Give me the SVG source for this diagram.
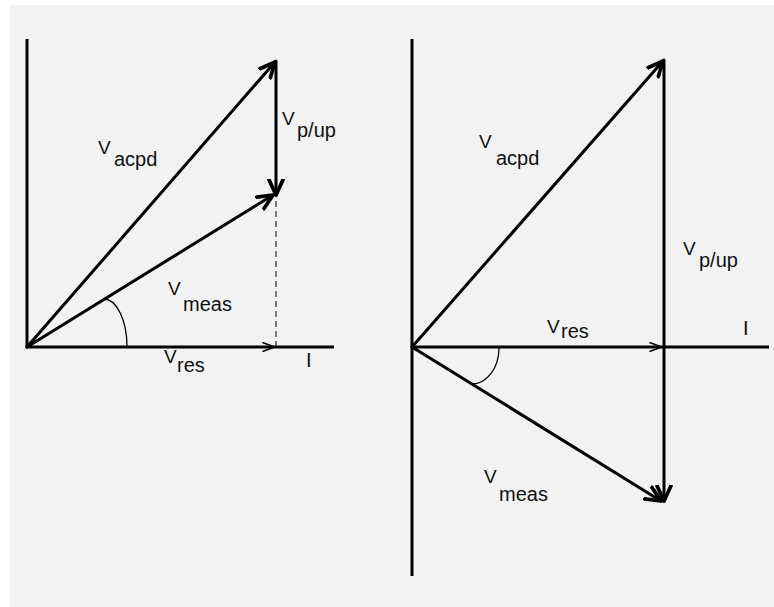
<svg xmlns="http://www.w3.org/2000/svg" width="774" height="607" viewBox="0 0 774 607">
<defs>
<style>
.ax{stroke:#000;stroke-width:3;fill:none;stroke-linecap:butt}
.vec{stroke:#000;stroke-width:3;fill:none;stroke-linecap:round;stroke-linejoin:round}
.thin{stroke:#000;stroke-width:1.3;fill:none}
.dash{stroke:#000;stroke-width:1;fill:none;stroke-dasharray:6 4}
.t{font-family:"Liberation Sans",Arial,sans-serif;fill:#111}
.v{font-size:19px}
.s{font-size:20px}
</style>
<marker id="ah" markerUnits="userSpaceOnUse" markerWidth="20" markerHeight="20" refX="13" refY="7" orient="auto" viewBox="0 0 16 14">
<polyline points="1,1.5 13,7 1,12.5" fill="none" stroke="#000" stroke-width="3" stroke-linecap="round" stroke-linejoin="round"/>
</marker>
<marker id="ahthin" markerUnits="userSpaceOnUse" markerWidth="16" markerHeight="12" refX="12" refY="5" orient="auto" viewBox="0 0 14 10">
<polyline points="1,1 12,5 1,9" fill="none" stroke="#000" stroke-width="1.3"/>
</marker>
</defs>
<rect x="10" y="5" width="764" height="602" fill="#f2f2f2"/>

<g id="axes">
<line class="ax" x1="27" y1="39" x2="27" y2="348"/>
<line class="ax" x1="26" y1="347" x2="334" y2="347"/>
<line class="ax" x1="412" y1="39" x2="412" y2="576"/>
<line class="ax" x1="411" y1="347" x2="769" y2="347"/>
</g>

<g id="connectors">
<line class="vec" x1="27" y1="347" x2="275" y2="62" marker-end="url(#ah)"/>
<line class="vec" x1="276" y1="61" x2="276" y2="195" marker-end="url(#ah)"/>
<line class="vec" x1="27" y1="347" x2="273" y2="195" marker-end="url(#ah)"/>
<line class="dash" x1="276" y1="201" x2="276" y2="346"/>
<line class="thin" x1="200" y1="347" x2="275" y2="347" marker-end="url(#ahthin)"/>
<path class="thin" d="M104 299 A 23 48 0 0 1 127 346"/>

<line class="vec" x1="412" y1="347" x2="663" y2="61" marker-end="url(#ah)"/>
<line class="vec" x1="664" y1="60" x2="664" y2="501" marker-end="url(#ah)"/>
<line class="vec" x1="412" y1="347" x2="661" y2="501" marker-end="url(#ah)"/>
<line class="thin" x1="600" y1="347" x2="662" y2="347" marker-end="url(#ahthin)"/>
<path class="thin" d="M499 348 A 27 36 0 0 1 472 384"/>
</g>

<g id="label-vacpd-left"><text class="t v" x="98" y="154">V</text><text class="t s" x="114" y="166">acpd</text></g>
<g id="label-vpup-left"><text class="t v" x="282" y="125">V</text><text class="t s" x="297" y="137">p/up</text></g>
<g id="label-vmeas-left"><text class="t v" x="168" y="295">V</text><text class="t s" x="183" y="311">meas</text></g>
<g id="label-vres-left"><text class="t v" x="164" y="363">V</text><text class="t s" x="177" y="372">res</text></g>
<g id="label-i-left"><text class="t s" x="306" y="367">I</text></g>

<g id="label-vacpd-right"><text class="t v" x="479" y="148">V</text><text class="t s" x="496" y="165">acpd</text></g>
<g id="label-vpup-right"><text class="t v" x="683" y="255">V</text><text class="t s" x="699" y="267">p/up</text></g>
<g id="label-vres-right"><text class="t v" x="547" y="333">V</text><text class="t s" x="561" y="338">res</text></g>
<g id="label-i-right"><text class="t s" x="743" y="335">I</text></g>
<g id="label-vmeas-right"><text class="t v" x="484" y="483">V</text><text class="t s" x="499" y="501">meas</text></g>
</svg>
